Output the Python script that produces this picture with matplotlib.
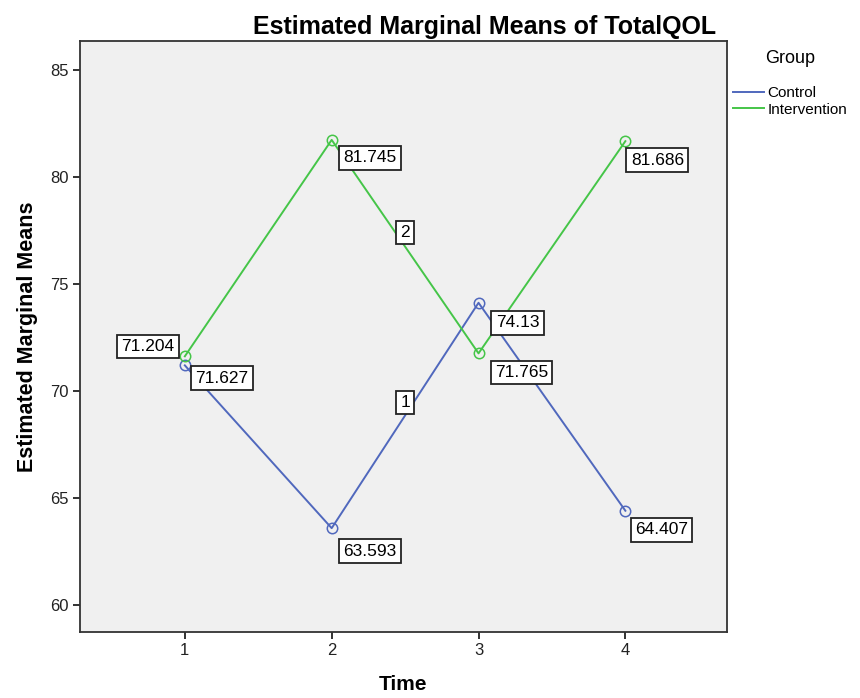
import matplotlib
matplotlib.use('Agg')
import matplotlib.pyplot as plt
from matplotlib.lines import Line2D

plt.rcParams['font.family'] = ['Liberation Sans', 'DejaVu Sans']

# data
time = [1, 2, 3, 4]
control = [71.204, 63.593, 74.13, 64.407]
intervention = [71.627, 81.745, 71.765, 81.686]
yticks = [60, 65, 70, 75, 80, 85]

blue = '#5068BD'
green = '#45C548'

fig = plt.figure(figsize=(8.6, 6.98), dpi=100)
ax = fig.add_axes([0.093, 0.0946, 0.752, 0.8464])
ax.set_facecolor('#F0F0F0')

ax.plot(time, control, color=blue, lw=1.4, marker='o', ms=7.5, mfc='none', mec=blue, mew=1.1)
ax.plot(time, intervention, color=green, lw=1.4, marker='o', ms=7.5, mfc='none', mec=green, mew=1.1)

ax.set_xlim(0.286, 4.69)
ax.set_ylim(58.74, 86.36)
ax.set_xticks(time)
ax.set_yticks(yticks)
ax.tick_params(direction='out', length=5, width=1.3, labelsize=12, colors='#222222', pad=3)
for s in ax.spines.values():
    s.set_color('#333333')
    s.set_linewidth(1.3)

box = dict(boxstyle='square,pad=0.25', fc='white', ec='#222222', lw=1.3)

# value labels (offsets in pixels from the point, as in the picture)
ctrl_off = [(-37, 19), (38, -23), (39, -20), (36, -19)]
int_off = [(37, -22), (38, -18), (43, -19), (32, -19)]
for x, y, (dx, dy) in zip(time, control, ctrl_off):
    ax.annotate(f'{y:g}', (x, y), xytext=(dx, dy), textcoords='offset pixels',
                ha='center', va='center', fontsize=12.5, bbox=box, zorder=5)
for x, y, (dx, dy) in zip(time, intervention, int_off):
    ax.annotate(f'{y:g}', (x, y), xytext=(dx, dy), textcoords='offset pixels',
                ha='center', va='center', fontsize=12.5, bbox=box, zorder=5)

# line id labels
ax.annotate('1', (2.5, (control[1] + control[2]) / 2), xytext=(0, 13), textcoords='offset pixels',
            ha='center', va='center', fontsize=12.5, bbox=box, zorder=5)
ax.annotate('2', (2.5, (intervention[1] + intervention[2]) / 2), xytext=(0, 14), textcoords='offset pixels',
            ha='center', va='center', fontsize=12.5, bbox=box, zorder=5)

ax.set_xlabel('Time', fontsize=15, fontweight='bold', labelpad=12)
ax.set_ylabel('Estimated Marginal Means', fontsize=15.5, fontweight='bold', labelpad=9)
fig.text(0.563, 0.962, 'Estimated Marginal Means of TotalQOL', ha='center', va='center',
         fontsize=18, fontweight='bold')

handles = [Line2D([], [], color=blue, lw=1.4), Line2D([], [], color=green, lw=1.4)]
leg = fig.legend(handles, ['Control', 'Intervention'], loc='upper left',
                 bbox_to_anchor=(733 / 860, 1 - 50 / 698), frameon=False,
                 title='Group', fontsize=11, title_fontsize=13, handlelength=2.0,
                 handletextpad=0.25, labelspacing=0.15, borderaxespad=0, borderpad=0)
leg._legend_box.sep = 14

fig.savefig('out.png', dpi=100)
